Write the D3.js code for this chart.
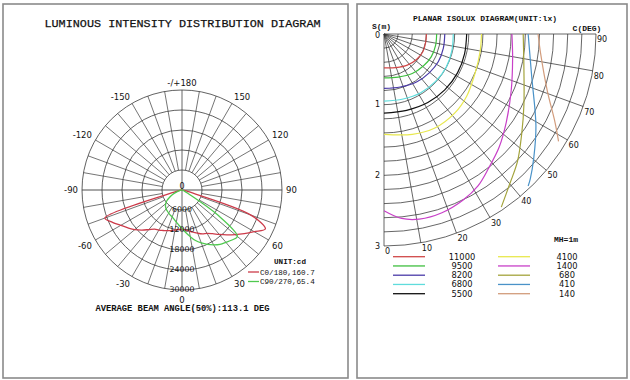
<!DOCTYPE html>
<html><head><meta charset="utf-8">
<script src="https://cdn.jsdelivr.net/npm/d3@7"></script>
<style>html,body{margin:0;padding:0;background:#fff}svg{display:block}</style>
</head><body><svg id="c" width="630" height="380"></svg>
<script>
// ---------- Luminous intensity data (cd) ----------
const gammaDeg = [-90,-85,-80,-75,-70,-65,-60,-55,-50,-45,-40,-35,-30,-25,-20,-15,-10,-5,0,5,10,15,20,25,30,35,40,45,50,55,60,65,70,75,80,85,90];
const intensityC0 = [0,200,600,2000,24600,23000,21200,19800,18500,17000,15500,14300,13900,13400,13000,12600,12200,11900,11700,12000,12500,13100,13800,14500,15000,16000,17400,19000,20800,22800,25000,27600,22000,2000,600,200,0];
const intensityC90 = [0,100,300,800,1800,3000,4200,5500,6400,7000,7400,7700,8000,8300,8600,9100,9800,10600,11500,12800,14200,15700,16900,18000,19000,19900,20500,21200,21700,13000,2000,800,400,200,100,50,0];
const ringValues = [6000,12000,18000,24000,30000];
const ringLabels = ["6000","12000","18000","24000","30000"];
const spokeAngles = [-170,-160,-150,-140,-130,-120,-110,-100,-80,-70,-60,-50,-40,-30,-20,-10,10,20,30,40,50,60,70,80,100,110,120,130,140,150,160,170];
const angleTicks = [0,30,60,90,120,150,180,-150,-120,-90,-60,-30];
const angleTickLabels = ["0","30","60","90","120","150","-/+180","-150","-120","-90","-60","-30"];
const polarSeriesNames = ["C0/180,160.7","C90/270,65.4"];
const polarSeriesColors = ["#cc3b4a","#4fc94f"];

// ---------- Planar isolux data (x = C90 direction m, s = C0 direction m) ----------
const isoluxLevels = ["11000","9500","8200","6800","5500","4100","1400","680","410","140"];
const isoluxColors = ["#d04848","#3fbf3f","#4a3aa8","#5fdcdc","#111111","#e8e84e","#c840c8","#a3a33c","#4a92c8","#d29c7c"];
const iso11000 = [[0.60,0],[0.59,0.12],[0.55,0.25],[0.46,0.36],[0.33,0.44],[0.17,0.475],[0,0.48]];
const iso9500  = [[0.745,0],[0.73,0.16],[0.67,0.32],[0.56,0.45],[0.40,0.56],[0.20,0.61],[0,0.62]];
const iso8200  = [[0.86,0],[0.84,0.2],[0.77,0.39],[0.64,0.55],[0.46,0.68],[0.23,0.75],[0,0.77]];
const iso6800  = [[0.98,0],[0.96,0.24],[0.88,0.47],[0.73,0.67],[0.52,0.83],[0.27,0.92],[0,0.95]];
const iso5500  = [[1.17,0],[1.14,0.28],[1.04,0.55],[0.86,0.79],[0.62,0.97],[0.32,1.08],[0,1.12]];
const iso4100  = [[1.38,0],[1.36,0.25],[1.29,0.55],[1.17,0.88],[1.0,1.12],[0.72,1.33],[0.40,1.42],[0,1.42]];
const iso1400  = [[1.81,0],[1.82,0.35],[1.80,0.8],[1.73,1.25],[1.63,1.6],[1.48,1.9],[1.33,2.15],[1.12,2.35],[0.82,2.53],[0.5,2.62],[0.25,2.61],[0,2.5]];
const iso680   = [[1.97,0],[1.98,0.5],[1.98,1.0],[1.95,1.4],[1.89,1.8],[1.78,2.12],[1.66,2.45]];
const iso410   = [[2.04,0],[2.09,0.6],[2.15,1.3],[2.12,1.75],[2.07,2.05],[2.04,2.15]];
const iso140   = [[2.18,0],[2.22,0.3],[2.31,0.8],[2.42,1.25],[2.47,1.52]];
const isoCurves = [iso11000,iso9500,iso8200,iso6800,iso5500,iso4100,iso1400,iso680,iso410,iso140];
const cAngleTicks = [0,10,20,30,40,50,60,70,80,90];
const sTicks = [0,1,2,3];
const sRings = [0.2,0.4,0.6,0.8,1.0,1.2,1.4,1.6,1.8,2.0,2.2,2.4,2.6,2.8,3.0];

const svg = d3.select("#c");
const mono = "'Liberation Mono','Courier New',monospace";
const sans = "'DejaVu Sans',Verdana,sans-serif";

// panels
svg.append("rect").attr("x",3).attr("y",4).attr("width",345).attr("height",374).attr("fill","none").attr("stroke","#8a8a8a").attr("stroke-width",1.6);
svg.append("rect").attr("x",357).attr("y",4).attr("width",270).attr("height",374).attr("fill","none").attr("stroke","#8a8a8a").attr("stroke-width",1.6);

// ---------- LEFT: polar ----------
svg.append("text").attr("x",182.5).attr("y",27).attr("text-anchor","middle")
  .attr("font-family",mono).attr("font-size",11.8).attr("fill","#111")
  .attr("stroke","#111").attr("stroke-width",0.25)
  .text("LUMINOUS INTENSITY DISTRIBUTION DIAGRAM");

const cx = 182, cy = 190;
const rScale = d3.scaleLinear().domain([0,30000]).range([0,100]);
const gL = svg.append("g").attr("transform",`translate(${cx},${cy})`);
const rad = d => d*Math.PI/180;
const px = (g,r) => r*Math.sin(rad(g));
const py = (g,r) => r*Math.cos(rad(g));

// spokes
gL.selectAll("line.sp").data(spokeAngles).join("line")
  .attr("x1",d=>px(d,rScale(6000))).attr("y1",d=>py(d,rScale(6000)))
  .attr("x2",d=>px(d,rScale(30000))).attr("y2",d=>py(d,rScale(30000)))
  .attr("stroke","#3a3a3a").attr("stroke-width",0.7);
// main axes
gL.append("line").attr("x1",-rScale(30000)).attr("x2",rScale(30000)).attr("y1",0).attr("y2",0).attr("stroke","#8a8a8a").attr("stroke-width",1.4);
gL.append("line").attr("y1",-rScale(30000)).attr("y2",rScale(30000)).attr("x1",0).attr("x2",0).attr("stroke","#666").attr("stroke-width",1);
// rings
gL.selectAll("circle.ring").data(ringValues).join("circle")
  .attr("r",d=>rScale(d)).attr("fill","none").attr("stroke","#3a3a3a").attr("stroke-width",0.8);

// angle labels
const LR = 104;
gL.selectAll("text.ang").data(angleTicks).join("text")
  .attr("x",d=>px(d,LR)).attr("y",d=>py(d,LR) + (d===0?1.5:0))
  .attr("text-anchor",d=>Math.abs(Math.sin(rad(d)))<0.01?"middle":(Math.sin(rad(d))>0?"start":"end"))
  .attr("dy",d=>{const c=Math.cos(rad(d)); return Math.abs(c)<0.01?"0.35em":(c>0?"0.85em":"0em");})
  .attr("font-family",sans).attr("font-size",8.5).attr("fill","#111")
  .text((d,i)=>angleTickLabels[i]);

// curves
const radialLine = d3.lineRadial()
  .angle((d,i)=>Math.PI - rad(gammaDeg[i]))
  .radius(d=>rScale(d))
  .curve(d3.curveCatmullRom.alpha(0.5));
[intensityC0,intensityC90].forEach((s,k)=>{
  gL.append("path").attr("d",radialLine(s)).attr("fill","none")
    .attr("stroke",polarSeriesColors[k]).attr("stroke-width",1.3);
});

// ring labels (on top)
gL.selectAll("text.rl").data(ringValues).join("text")
  .attr("x",0).attr("y",d=>rScale(d)).attr("dy","0.32em").attr("text-anchor","middle")
  .attr("font-family",sans).attr("font-size",7.8).attr("fill","#111")
  .text((d,i)=>ringLabels[i]);
gL.append("text").attr("x",0).attr("y",0).attr("dy","-0.15em").attr("text-anchor","middle")
  .attr("font-family",sans).attr("font-size",8).attr("fill","#111").text("0");

// legend
svg.append("text").attr("x",290).attr("y",264).attr("text-anchor","middle")
  .attr("font-family",mono).attr("font-size",7.6).attr("font-weight","bold").attr("fill","#111").text("UNIT:cd");
polarSeriesNames.forEach((n,k)=>{
  const y = 272 + k*9.5;
  svg.append("line").attr("x1",248).attr("x2",259).attr("y1",y).attr("y2",y).attr("stroke",polarSeriesColors[k]).attr("stroke-width",1.3);
  svg.append("text").attr("x",260).attr("y",y+2.7).attr("font-family",mono).attr("font-size",7.6).attr("fill","#111").text(n);
});

svg.append("text").attr("x",182.5).attr("y",311).attr("text-anchor","middle")
  .attr("font-family",mono).attr("font-size",8.8).attr("font-weight","bold").attr("fill","#111")
  .text("AVERAGE BEAM ANGLE(50%):113.1 DEG");

// ---------- RIGHT: planar isolux ----------
svg.append("text").attr("x",485).attr("y",20.5).attr("text-anchor","middle")
  .attr("font-family",mono).attr("font-size",8).attr("font-weight","bold").attr("fill","#111")
  .text("PLANAR ISOLUX DIAGRAM(UNIT:lx)");
const ox = 384, oy = 34;
const xS = d3.scaleLinear().domain([0,3]).range([ox, ox+212]);
const yS = d3.scaleLinear().domain([0,3]).range([oy, oy+212]);
const rPx = m => xS(m)-ox;

// arcs
sRings.forEach(m=>{
  const p = d3.path(); const r = rPx(m);
  p.moveTo(ox, oy + r); p.arc(ox, oy, r, Math.PI/2, 0, true);
  svg.append("path").attr("d",p.toString()).attr("fill","none").attr("stroke","#333").attr("stroke-width",0.75);
});
// radial lines
svg.selectAll("line.cr").data(cAngleTicks).join("line")
  .attr("x1",ox).attr("y1",oy)
  .attr("x2",d=>ox+rPx(3)*Math.sin(rad(d))).attr("y2",d=>oy+rPx(3)*Math.cos(rad(d)))
  .attr("stroke","#333").attr("stroke-width",0.75);
// C labels
svg.selectAll("text.cl").data(cAngleTicks).join("text")
  .attr("x",d=>ox+rPx(3)*Math.sin(rad(d))+1).attr("y",d=>oy+rPx(3)*Math.cos(rad(d))+8)
  .attr("font-family",sans).attr("font-size",8).attr("fill","#111").text(d=>d);
// S labels
svg.selectAll("text.sl").data(sTicks).join("text")
  .attr("x",380).attr("y",d=>yS(d)).attr("dy",d=>d===0?"0.45em":"0.35em").attr("text-anchor","end")
  .attr("font-family",sans).attr("font-size",8).attr("fill","#111").text(d=>d);
svg.append("text").attr("x",381.5).attr("y",28.5).attr("text-anchor","middle")
  .attr("font-family",mono).attr("font-size",8).attr("font-weight","bold").attr("fill","#111").text("S(m)");
svg.append("text").attr("x",587).attr("y",30.5).attr("text-anchor","middle")
  .attr("font-family",mono).attr("font-size",8).attr("font-weight","bold").attr("fill","#111").text("C(DEG)");

// contours
const isoLine = d3.line().x(d=>xS(d[0])).y(d=>yS(d[1])).curve(d3.curveCatmullRom.alpha(0.5));
isoCurves.forEach((c,k)=>{
  svg.append("path").attr("d",isoLine(c)).attr("fill","none")
    .attr("stroke",isoluxColors[k]).attr("stroke-width",1.2);
});

// legend
svg.append("text").attr("x",566).attr("y",241.5).attr("text-anchor","middle")
  .attr("font-family",mono).attr("font-size",8).attr("font-weight","bold").attr("fill","#111").text("MH=1m");
isoluxLevels.forEach((lv,k)=>{
  const col = k<5?0:1, row = k%5;
  const y = 256.7 + row*9.25;
  const x1 = col===0?393:498;
  svg.append("line").attr("x1",x1).attr("x2",x1+32).attr("y1",y).attr("y2",y)
    .attr("stroke",isoluxColors[k]).attr("stroke-width",1.3);
  svg.append("text").attr("x",col===0?462:567).attr("y",y+3).attr("text-anchor","middle")
    .attr("font-family",sans).attr("font-size",8.3).attr("fill","#111").text(lv);
});
</script></body></html>
